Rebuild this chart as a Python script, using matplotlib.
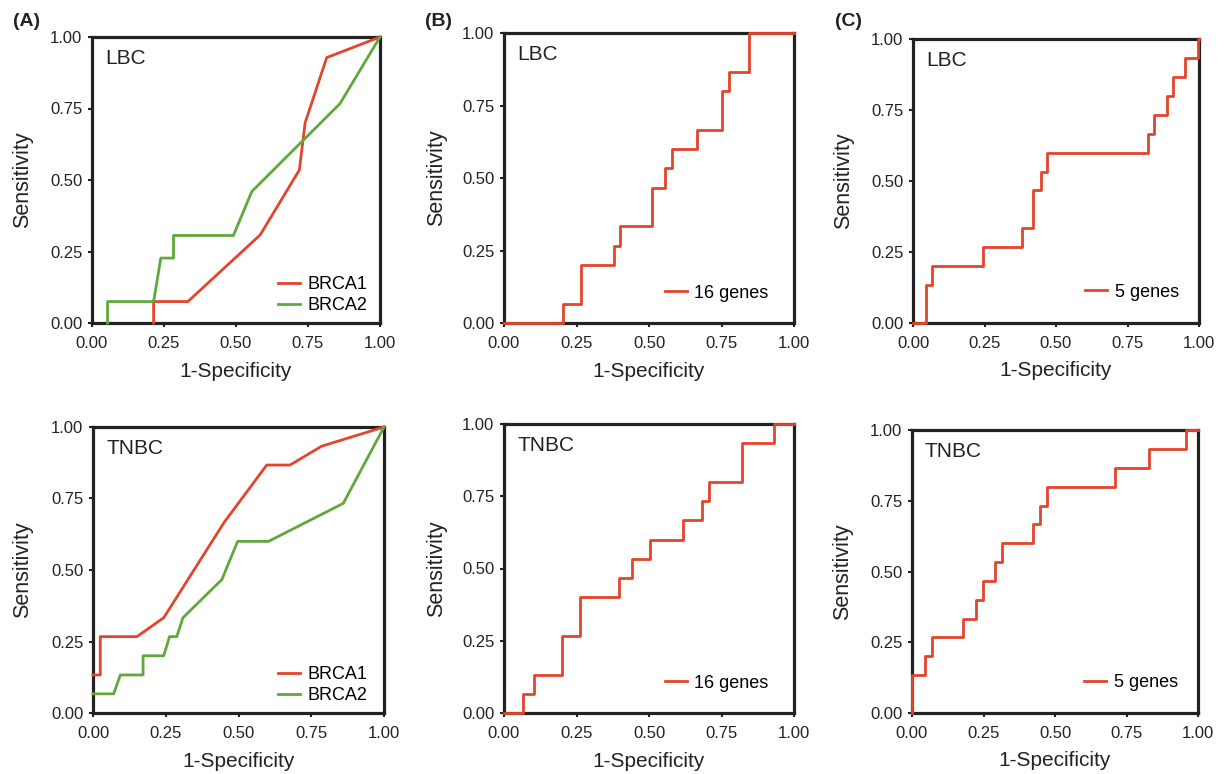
import matplotlib
matplotlib.use("Agg")
import matplotlib.pyplot as plt

plt.rcParams['font.family'] = ['Liberation Sans', 'DejaVu Sans']

RED = '#e2452c'
GREEN = '#5fa83c'
DARK = '#222222'

# ---- Data (FPR = 1-Specificity, TPR = Sensitivity) ----
# (A) LBC, single genes (piecewise-linear curves)
lbc_brca1_fpr = [0.214, 0.214, 0.333, 0.584, 0.72, 0.74, 0.815, 1.0]
lbc_brca1_tpr = [0.0, 0.075, 0.075, 0.308, 0.535, 0.70, 0.928, 1.0]
lbc_brca2_fpr = [0.054, 0.054, 0.214, 0.239, 0.283, 0.283, 0.491, 0.555, 0.861, 1.0]
lbc_brca2_tpr = [0.0, 0.075, 0.075, 0.227, 0.227, 0.306, 0.306, 0.46, 0.767, 1.0]

# (A) TNBC, single genes
tnbc_brca1_fpr = [0.0, 0.025, 0.025, 0.151, 0.243, 0.451, 0.597, 0.677, 0.786, 1.0]
tnbc_brca1_tpr = [0.133, 0.133, 0.267, 0.267, 0.333, 0.667, 0.867, 0.867, 0.933, 1.0]
tnbc_brca2_fpr = [0.0, 0.071, 0.094, 0.172, 0.172, 0.243, 0.263, 0.288, 0.309, 0.443, 0.497, 0.603, 0.86, 1.0]
tnbc_brca2_tpr = [0.067, 0.067, 0.133, 0.133, 0.2, 0.2, 0.267, 0.267, 0.333, 0.467, 0.6, 0.6, 0.733, 1.0]

# (B) 16 genes (step curves, ROC vertices)
lbc_16_fpr = [0.0, 0.202, 0.267, 0.379, 0.40, 0.512, 0.555, 0.581, 0.667, 0.753, 0.776, 0.845, 1.0]
lbc_16_tpr = [0.0, 0.067, 0.2, 0.267, 0.333, 0.467, 0.533, 0.6, 0.667, 0.8, 0.867, 1.0, 1.0]
tnbc_16_fpr = [0.0, 0.064, 0.104, 0.199, 0.262, 0.396, 0.44, 0.505, 0.618, 0.684, 0.707, 0.819, 0.93, 1.0]
tnbc_16_tpr = [0.0, 0.067, 0.133, 0.267, 0.4, 0.467, 0.533, 0.6, 0.667, 0.733, 0.8, 0.933, 1.0, 1.0]

# (C) 5 genes
lbc_5_fpr = [0.0, 0.044, 0.068, 0.245, 0.38, 0.42, 0.446, 0.47, 0.823, 0.841, 0.888, 0.909, 0.952, 0.997, 1.0]
lbc_5_tpr = [0.0, 0.133, 0.2, 0.267, 0.333, 0.467, 0.533, 0.6, 0.667, 0.733, 0.8, 0.867, 0.933, 1.0, 1.0]
tnbc_5_fpr = [0.0, 0.0, 0.047, 0.07, 0.18, 0.225, 0.248, 0.291, 0.315, 0.423, 0.449, 0.472, 0.711, 0.827, 0.959, 1.0]
tnbc_5_tpr = [0.0, 0.133, 0.2, 0.267, 0.333, 0.4, 0.467, 0.533, 0.6, 0.667, 0.733, 0.8, 0.867, 0.933, 1.0, 1.0]

ticks = [0.0, 0.25, 0.5, 0.75, 1.0]
tick_labels = ['0.00', '0.25', '0.50', '0.75', '1.00']

W, H = 1225, 774
fig = plt.figure(figsize=(W / 100, H / 100), dpi=100)


def make_ax(left, right, top, bottom):
    return fig.add_axes([left / W, (H - bottom) / H, (right - left) / W, (bottom - top) / H])


def style(ax, cohort, ylab_x=-0.205):
    ax.set_xlim(0, 1)
    ax.set_ylim(0, 1)
    ax.set_xticks(ticks)
    ax.set_yticks(ticks)
    ax.set_xticklabels(tick_labels)
    ax.set_yticklabels(tick_labels)
    ax.tick_params(direction='out', length=3, width=1.5, labelsize=12, colors=DARK)
    ax.tick_params(axis='x', pad=6)
    ax.tick_params(axis='y', pad=4)
    for s in ax.spines.values():
        s.set_linewidth(2.3)
        s.set_color(DARK)
        s.set_zorder(2)
    ax.set_xlabel('1-Specificity', fontsize=15, color=DARK)
    ax.set_ylabel('Sensitivity', fontsize=15.5, color=DARK)
    ax.xaxis.set_label_coords(0.5, -0.135)
    ax.yaxis.set_label_coords(ylab_x, 0.5)
    ax.text(0.045, 0.925, cohort, transform=ax.transAxes, fontsize=15, color=DARK, va='center', ha='left')


def legend(ax, anchor):
    ax.legend(loc='lower right', bbox_to_anchor=anchor, frameon=False, fontsize=13,
              handlelength=1.25, handletextpad=0.4, labelspacing=0.25, borderaxespad=0.2)


LW = 2.0
KW = dict(lw=LW, clip_on=False, zorder=3)

# Top row
axA1 = make_ax(92, 380, 37, 323)
axA1.plot(lbc_brca1_fpr, lbc_brca1_tpr, color=RED, label='BRCA1', **KW)
axA1.plot(lbc_brca2_fpr, lbc_brca2_tpr, color=GREEN, label='BRCA2', **KW)
style(axA1, 'LBC')
legend(axA1, (0.994, -0.008))

axB1 = make_ax(504, 794, 33, 323)
axB1.plot(lbc_16_fpr, lbc_16_tpr, color=RED, drawstyle='steps-post', label='16 genes', **KW)
style(axB1, 'LBC', ylab_x=-0.195)
legend(axB1, (0.95, 0.036))

axC1 = make_ax(913, 1199, 39, 323)
axC1.plot(lbc_5_fpr, lbc_5_tpr, color=RED, drawstyle='steps-post', label='5 genes', **KW)
style(axC1, 'LBC')
legend(axC1, (0.967, 0.04))

# Bottom row
axA2 = make_ax(93, 384, 427, 713)
axA2.plot(tnbc_brca1_fpr, tnbc_brca1_tpr, color=RED, label='BRCA1', **KW)
axA2.plot(tnbc_brca2_fpr, tnbc_brca2_tpr, color=GREEN, label='BRCA2', **KW)
style(axA2, 'TNBC')
legend(axA2, (0.98, -0.008))

axB2 = make_ax(504, 794, 424, 713)
axB2.plot(tnbc_16_fpr, tnbc_16_tpr, color=RED, drawstyle='steps-post', label='16 genes', **KW)
style(axB2, 'TNBC', ylab_x=-0.195)
legend(axB2, (0.95, 0.036))

axC2 = make_ax(912, 1198, 430, 713)
axC2.plot(tnbc_5_fpr, tnbc_5_tpr, color=RED, drawstyle='steps-post', label='5 genes', **KW)
style(axC2, 'TNBC')
legend(axC2, (0.967, 0.04))

# Panel letters
for x, lab in [(13, '(A)'), (425, '(B)'), (835, '(C)')]:
    fig.text(x / W, 1 - 22 / H, lab, fontsize=14, fontweight='bold', color=DARK, ha='left', va='center')

fig.savefig('out.png', dpi=100)
